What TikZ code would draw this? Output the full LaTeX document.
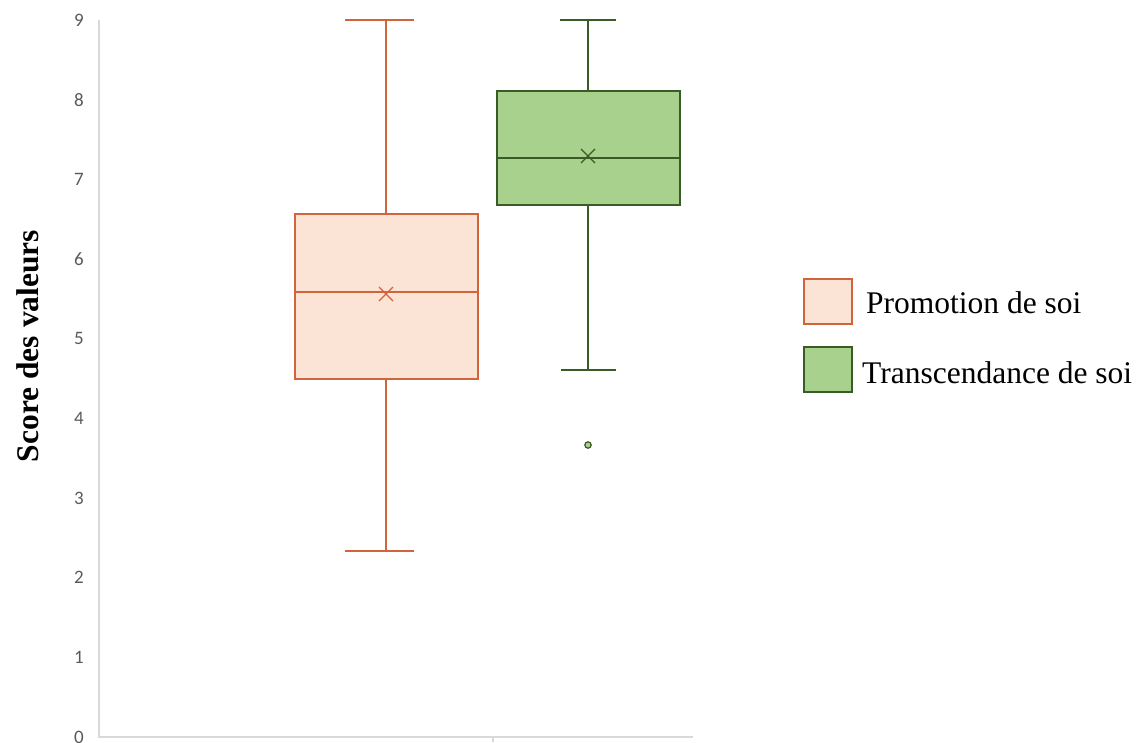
\documentclass[tikz,border=0pt]{standalone}
\usepackage{fontspec}
\setmainfont{Liberation Serif}
\newfontfamily\ticksfont{Carlito}
\definecolor{orline}{HTML}{D0643A}
\definecolor{orfill}{HTML}{FBE3D6}
\definecolor{grline}{HTML}{3A5A26}
\definecolor{grfill}{HTML}{A9D18E}
\definecolor{axgray}{HTML}{D9D9D9}
\definecolor{tickgray}{HTML}{595959}
\begin{document}
\begin{tikzpicture}[x=1pt,y=-1pt,
  ticklab/.style={font=\ticksfont\fontsize{19}{19}\selectfont,text=tickgray,anchor=center,inner sep=0pt},
  orbox/.style={draw=orline,fill=orfill,line width=1.6pt},
  grbox/.style={draw=grline,fill=grfill,line width=1.6pt},
  orl/.style={draw=orline,line width=1.6pt},
  grl/.style={draw=grline,line width=1.6pt},
  legtext/.style={font=\fontsize{31.5}{31.5}\selectfont,anchor=west,inner sep=0pt}]
\useasboundingbox (0,0) rectangle (1140,742);
% axes
\draw[axgray,line width=1.5pt] (99,20) -- (99,737) -- (693,737);
\draw[axgray,line width=1.5pt] (493,737) -- (493,742);
% tick labels
\foreach \v in {0,...,9}{
  \node[ticklab] (t\v) at (79,{737-79.67*\v}) {\v};
}
% y-axis title
\node[rotate=90,font=\bfseries\fontsize{31.5}{31.5}\selectfont,inner sep=0pt] (ytitle) at (28,346) {Score des valeurs};
% orange box plot
\draw[orl] (386,20) -- (386,214);
\draw[orl] (345,20) -- (414,20);
\draw[orl] (386,379) -- (386,551);
\draw[orl] (345,551) -- (414,551);
\draw[orbox] (295,214) rectangle (478,379);
\draw[orl] (295,292) -- (478,292);
\draw[orl,line width=1.3pt] (379,287) -- (393,301) (379,301) -- (393,287);
% green box plot
\draw[grl] (588,20) -- (588,91);
\draw[grl] (560,20) -- (616,20);
\draw[grl] (588,205) -- (588,370);
\draw[grl] (561,370) -- (616,370);
\draw[grbox] (497,91) rectangle (680,205);
\draw[grl] (497,158) -- (680,158);
\draw[grl,line width=1.3pt] (581,149) -- (595,163) (581,163) -- (595,149);
\draw[grline,fill=grfill,line width=1.2pt] (588,445) circle (3.2);
% legend
\node[orbox,minimum width=48pt,minimum height=45pt,inner sep=0pt] (leg1) at (828,301.5) {};
\node[grbox,minimum width=48pt,minimum height=45pt,inner sep=0pt] (leg2) at (828,369.5) {};
\node[legtext] (leg1t) at (866,303) {Promotion de soi};
\node[legtext] (leg2t) at (862,373) {Transcendance de soi};
\end{tikzpicture}
\end{document}
